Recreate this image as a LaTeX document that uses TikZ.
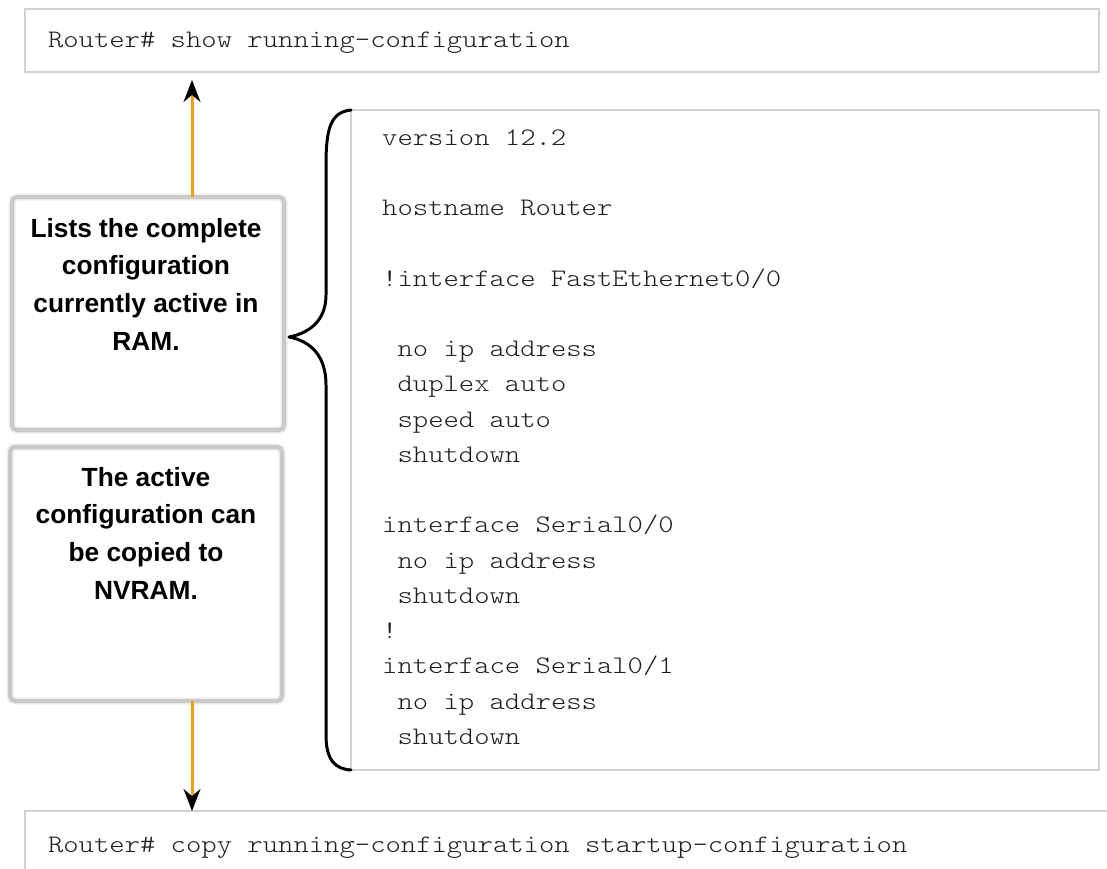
\documentclass[tikz,border=0pt]{standalone}
\usepackage{fontspec}
\setmainfont{Liberation Sans}
\setmonofont{Latin Modern Mono Light}[FakeStretch=1.16]
\usetikzlibrary{arrows.meta}
\definecolor{arrorange}{RGB}{245,158,18}
\definecolor{codegray}{RGB}{30,30,30}
\newcommand{\cfgind}{\hspace*{15.36pt}}
\begin{document}
\begin{tikzpicture}[x=1pt,y=-1pt,
  cmdbox/.style={draw=gray!35, line width=2pt, outer sep=0pt, inner sep=0pt},
  codetext/.style={text=codegray, inner sep=0pt, align=left,
    font=\ttfamily\fontsize{25.2}{35.25}\selectfont},
  cmdline/.style={text=codegray, align=justify,
    font=\ttfamily\fontsize{25.2}{35.25}\selectfont},
  notebox/.style={draw=gray!42, line width=4pt, rounded corners=5pt, outer sep=0pt,
    preaction={draw=gray!15, line width=7pt}},
  notetext/.style={inner sep=0pt, align=center,
    font=\bfseries\fontsize{26.3}{37.6}\selectfont},
  flow/.style={draw=arrorange, line width=3pt,
    -{Stealth[length=22pt,width=17pt,inset=7pt,line width=1pt,color=black]}},
  bracestyle/.style={draw=black, line width=3pt, line cap=round, line join=round}
]
\fill[white] (0,0) rectangle (1107,868);
\clip (0,0) rectangle (1107,868);

% command boxes
\node[cmdbox, cmdline, minimum width=1074pt, minimum height=63pt,
      inner xsep=23pt, text width=1028pt, text height=18pt, text depth=5pt]
  (top) at (562,40.5) {Router\# show running-configuration};
\node[cmdbox, cmdline, minimum width=1105pt, minimum height=69pt,
      inner xsep=23pt, text width=1059pt, text height=18pt, text depth=5pt]
  (bot) at (577.5,845.5) {Router\# copy running-configuration startup-configuration};

% configuration listing
\node[cmdbox, minimum width=748pt, minimum height=660pt] (cfg) at (725,440) {};
\node[codetext, anchor=north west] (cfgtext) at ([xshift=31pt,yshift=-10pt]cfg.north west)
  {\rule{0pt}{25pt}version 12.2\\[35.25pt]
   hostname Router\\[35.25pt]
   !interface FastEthernet0/0\\[35.25pt]
   \cfgind no ip address\\
   \cfgind duplex auto\\
   \cfgind speed auto\\
   \cfgind shutdown\\[35.25pt]
   interface Serial0/0\\
   \cfgind no ip address\\
   \cfgind shutdown\\
   !\\
   interface Serial0/1\\
   \cfgind no ip address\\
   \cfgind shutdown};

% note boxes
\node[notebox, minimum width=272pt, minimum height=233pt] (box1) at (148,313.5) {};
\node[notetext, anchor=north] (t1) at ([xshift=-2pt,yshift=-14pt]box1.north)
  {\rule{0pt}{26pt}Lists the complete\\configuration\\currently active in\\RAM.};
\node[notebox, minimum width=272pt, minimum height=254pt] (box2) at (146,574) {};
\node[notetext, anchor=north] (t2) at ([yshift=-13pt]box2.north)
  {\rule{0pt}{26pt}The active\\configuration can\\be copied to\\NVRAM.};

% arrows
\draw[flow, shorten >=8pt] ([xshift=44pt]box1.north) -- ([xshift=44pt]box1.north |- top.south);
\draw[flow] ([xshift=46pt]box2.south) -- ([xshift=46pt]box2.south |- bot.north);

% brace
\draw[bracestyle] (cfg.north west)
  .. controls +(-21,2) and +(0,-35) .. ++(-25,55)
  -- ++(0,130)
  .. controls +(0,25) and +(21,-4) .. ++(-37,42)
  .. controls +(21,4) and +(0,-30) .. ++(37,48)
  -- ++(0,350)
  .. controls +(0,25) and +(-16,-1) .. (cfg.south west);
\end{tikzpicture}
\end{document}
